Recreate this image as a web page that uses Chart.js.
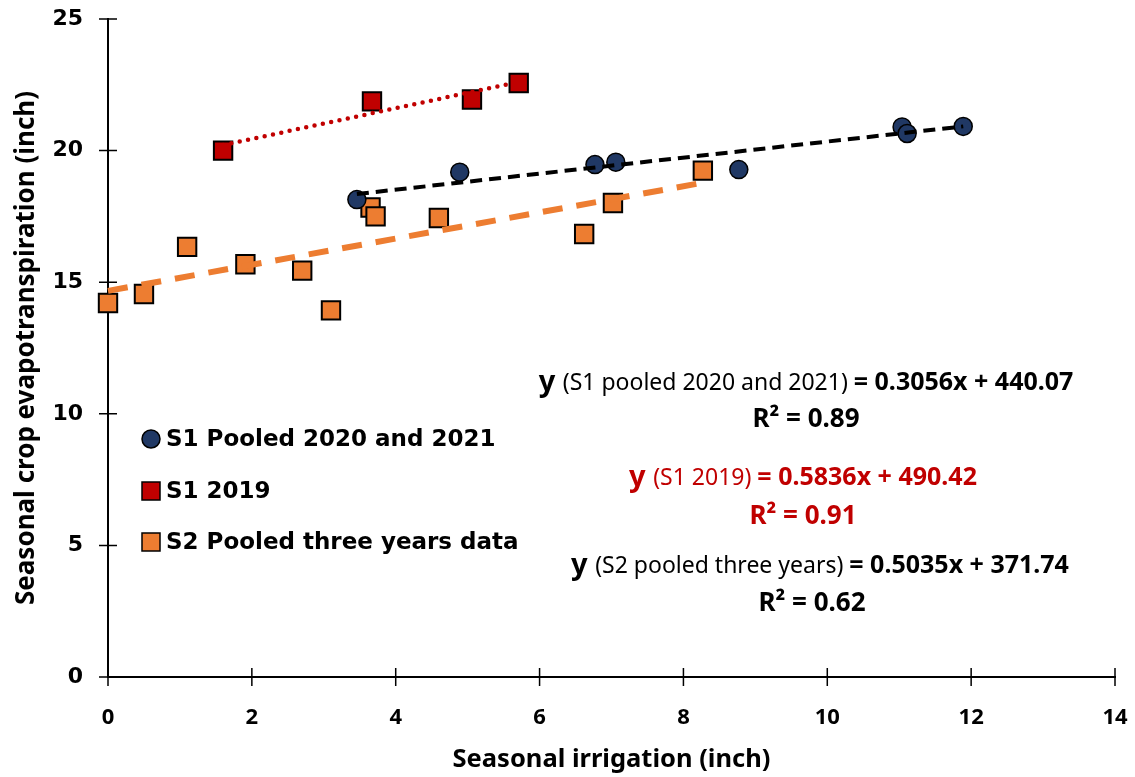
<!DOCTYPE html>
<html>
<head>
<meta charset="utf-8">
<script src="https://cdn.jsdelivr.net/npm/chart.js@4.4.0/dist/chart.umd.min.js"></script>
<style>
  html, body { margin: 0; padding: 0; background: #fff; }
</style>
</head>
<body>
<canvas id="et-chart" width="1135" height="777"></canvas>
<script>
// scatter values (inch)
const s1PooledX = [3.46, 4.89, 6.77, 7.06, 8.77, 11.04, 11.11, 11.89];
const s1PooledY = [18.14, 19.18, 19.47, 19.56, 19.28, 20.90, 20.65, 20.92];

const s1y2019X = [1.60, 3.67, 5.06, 5.71];
const s1y2019Y = [20.00, 21.87, 21.94, 22.57];

const s2PooledX = [0.00, 0.50, 1.10, 1.91, 2.70, 3.10, 3.65, 3.72, 4.60, 6.62, 7.02, 8.27];
const s2PooledY = [14.21, 14.55, 16.34, 15.68, 15.44, 13.93, 17.84, 17.50, 17.44, 16.83, 18.01, 19.24];

// trendline end points as drawn in the figure
const trendS1X = [3.46, 11.89];
const trendS1Y = [18.35, 20.92];
const trend2019X = [1.60, 5.71];
const trend2019Y = [20.21, 22.61];
const trendS2X = [0.00, 8.27];
const trendS2Y = [14.67, 18.78];

const legendLabels = ['S1 Pooled 2020 and 2021', 'S1 2019', 'S2 Pooled three years data'];

// axis ticks
const xTicks = [0, 2, 4, 6, 8, 10, 12, 14];
const yTicks = [0, 5, 10, 15, 20, 25];

const NAVY = '#203864';
const RED = '#C00000';
const ORANGE = '#ED7D31';

function toPoints(xs, ys) {
  return xs.map((x, i) => ({ x: x, y: ys[i] }));
}

// ticks that cross the axis lines, like the excel original
const crossTicks = {
  id: 'crossTicks',
  beforeDatasetsDraw(chart) {
    const { ctx, scales: { x, y } } = chart;
    ctx.save();
    ctx.strokeStyle = '#000';
    ctx.lineWidth = 1.5;
    ctx.beginPath();
    xTicks.forEach(v => {
      const px = x.getPixelForValue(v);
      ctx.moveTo(px, y.bottom - 9);
      ctx.lineTo(px, y.bottom + 9);
    });
    yTicks.forEach(v => {
      const py = y.getPixelForValue(v);
      ctx.moveTo(x.left - 9, py);
      ctx.lineTo(x.left + 9, py);
    });
    ctx.stroke();
    ctx.restore();
  }
};

// legend sitting inside the plot on the left
const insideLegend = {
  id: 'insideLegend',
  afterDraw(chart) {
    const ctx = chart.ctx;
    const rows = [439, 491, 542];
    ctx.save();
    ctx.font = 'bold 23px "DejaVu Sans"';
    ctx.textBaseline = 'middle';
    ctx.fillStyle = '#000';
    rows.forEach((ry, i) => {
      ctx.lineWidth = 1.5;
      ctx.strokeStyle = '#000';
      if (i === 0) {
        ctx.fillStyle = NAVY;
        ctx.beginPath();
        ctx.arc(151, ry, 9, 0, Math.PI * 2);
        ctx.fill();
        ctx.stroke();
      } else {
        ctx.fillStyle = i === 1 ? RED : ORANGE;
        ctx.fillRect(142, ry - 9, 18, 18);
        ctx.strokeRect(142, ry - 9, 18, 18);
      }
      ctx.fillStyle = '#000';
      ctx.fillText(legendLabels[i], 166, ry + 1);
    });
    ctx.restore();
  }
};

// regression equations, each line made of runs with different fonts
const Y_FONT = 'bold 29px "Noto Sans"';
const PAREN_FONT = '23px "Noto Sans"';
const EQ_FONT = 'bold 25px "Noto Sans"';
const R2_FONT = 'bold 26px "Noto Sans"';
const equations = [
  { cx: 806, y: 383, color: '#000', runs: [['y ', Y_FONT], ['(S1 pooled 2020 and 2021) ', PAREN_FONT], ['= 0.3056x + 440.07', EQ_FONT]] },
  { cx: 806, y: 420, color: '#000', runs: [['R\u00B2 = 0.89', R2_FONT]] },
  { cx: 803, y: 478, color: RED, runs: [['y ', Y_FONT], ['(S1 2019) ', PAREN_FONT], ['= 0.5836x + 490.42', EQ_FONT]] },
  { cx: 803, y: 517, color: RED, runs: [['R\u00B2 = 0.91', R2_FONT]] },
  { cx: 820, y: 566, color: '#000', runs: [['y ', Y_FONT], ['(S2 pooled three years) ', PAREN_FONT], ['= 0.5035x + 371.74', EQ_FONT]] },
  { cx: 812, y: 604, color: '#000', runs: [['R\u00B2 = 0.62', R2_FONT]] }
];

const equationText = {
  id: 'equationText',
  afterDraw(chart) {
    const ctx = chart.ctx;
    ctx.save();
    ctx.textBaseline = 'middle';
    equations.forEach(eq => {
      let total = 0;
      eq.runs.forEach(r => { ctx.font = r[1]; total += ctx.measureText(r[0]).width; });
      let x = eq.cx - total / 2;
      ctx.fillStyle = eq.color;
      eq.runs.forEach(r => {
        ctx.font = r[1];
        ctx.textAlign = 'left';
        ctx.fillText(r[0], x, eq.y);
        x += ctx.measureText(r[0]).width;
      });
    });
    ctx.restore();
  }
};

const ctx = document.getElementById('et-chart').getContext('2d');

const chart = new Chart(ctx, {
  type: 'scatter',
  data: {
    datasets: [
      {
        label: 'trend S1 pooled',
        data: toPoints(trendS1X, trendS1Y),
        showLine: true,
        borderColor: '#000',
        borderWidth: 4,
        borderDash: [12, 7],
        pointRadius: 0,
        clip: false
      },
      {
        label: 'trend S1 2019',
        data: toPoints(trend2019X, trend2019Y),
        showLine: true,
        borderColor: RED,
        borderWidth: 4.5,
        borderDash: [0, 8.5],
        borderCapStyle: 'round',
        pointRadius: 0,
        clip: false
      },
      {
        label: 'trend S2 pooled',
        data: toPoints(trendS2X, trendS2Y),
        showLine: true,
        borderColor: ORANGE,
        borderWidth: 6,
        borderDash: [20, 14],
        pointRadius: 0,
        clip: false
      },
      {
        label: legendLabels[0],
        data: toPoints(s1PooledX, s1PooledY),
        pointStyle: 'circle',
        pointRadius: 9,
        backgroundColor: NAVY,
        borderColor: '#000',
        borderWidth: 1.5,
        clip: false
      },
      {
        label: legendLabels[1],
        data: toPoints(s1y2019X, s1y2019Y),
        pointStyle: 'rect',
        pointRadius: 13,
        backgroundColor: RED,
        borderColor: '#000',
        borderWidth: 2,
        clip: false
      },
      {
        label: legendLabels[2],
        data: toPoints(s2PooledX, s2PooledY),
        pointStyle: 'rect',
        pointRadius: 13,
        backgroundColor: ORANGE,
        borderColor: '#000',
        borderWidth: 2,
        clip: false
      }
    ]
  },
  options: {
    responsive: false,
    animation: false,
    events: [],
    layout: { padding: 0 },
    plugins: {
      legend: { display: false },
      tooltip: { enabled: false }
    },
    scales: {
      x: {
        type: 'linear',
        min: 0,
        max: 14,
        afterBuildTicks: scale => { scale.ticks = xTicks.map(v => ({ value: v })); },
        afterFit: scale => {
          scale.height = 100;
          scale.paddingLeft = 0;
          scale.paddingRight = 20;
        },
        grid: { display: false, drawTicks: false },
        border: { display: true, color: '#000', width: 2 },
        ticks: {
          padding: 28,
          color: '#000',
          font: { family: 'Noto Sans', size: 22, weight: 'bold' }
        },
        title: {
          display: true,
          text: 'Seasonal irrigation (inch)',
          color: '#000',
          font: { family: 'Noto Sans', size: 25.5, weight: 'bold' },
          padding: { top: 2, bottom: 2 }
        }
      },
      y: {
        type: 'linear',
        min: 0,
        max: 25,
        afterBuildTicks: scale => { scale.ticks = yTicks.map(v => ({ value: v })); },
        afterFit: scale => {
          scale.width = 108;
          scale.paddingTop = 19;
          scale.paddingBottom = 0;
        },
        grid: { display: false, drawTicks: false },
        border: { display: true, color: '#000', width: 2 },
        ticks: {
          padding: 25,
          color: '#000',
          font: { family: 'DejaVu Sans', size: 22, weight: 'bold' }
        },
        title: {
          display: true,
          text: 'Seasonal crop evapotranspiration (inch)',
          color: '#000',
          font: { family: 'Noto Sans', size: 26, weight: 'bold' },
          padding: { top: 11, bottom: 11 }
        }
      }
    }
  },
  plugins: [crossTicks, insideLegend, equationText]
});
</script>
</body>
</html>
